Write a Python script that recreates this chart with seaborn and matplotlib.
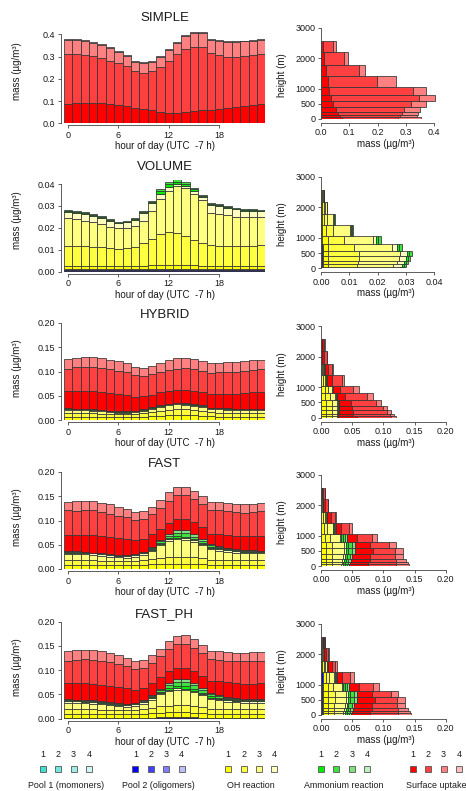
import numpy as np
import pandas as pd
import matplotlib
matplotlib.use("Agg")
import matplotlib.pyplot as plt
from matplotlib.patches import Rectangle
import seaborn as sns

sns.set_style("ticks")
plt.rcParams["font.family"] = ["Liberation Sans", "DejaVu Sans"]

# ---------------------------------------------------------------- axes data
HOURS = list(range(24))
HOUR_TICKS = [0, 6, 12, 18]
LEVEL_EDGES = [0, 56, 133, 244, 389, 578, 800, 1056, 1411, 1778, 2189, 2578]
HEIGHT_TICKS = [0, 500, 1000, 2000, 3000]

SCHEMES = ["SIMPLE", "VOLUME", "HYBRID", "FAST", "FAST_PH"]
GROUP_NAMES = ["Pool 1 (momoners)", "Pool 2 (oligomers)", "OH reaction",
               "Ammonium reaction", "Surface uptake"]
GROUP_KEYS = ["p1", "p2", "oh", "am", "su"]
BIN_LABELS = ["1", "2", "3", "4"]
GROUP_COLORS = {
    "p1": ["#40E0D0", "#70E8DC", "#A0EFE7", "#CFF7F3"],
    "p2": ["#0000FF", "#4040FF", "#8080FF", "#BFBFFF"],
    "oh": ["#FFFF00", "#FFFF40", "#FFFF80", "#FFFFBF"],
    "am": ["#00EE00", "#40E040", "#80E080", "#C0F0C0"],
    "su": ["#FF0000", "#FF4040", "#FF8080", "#FFBFBF"],
}

# ---------------------------------------------------------------- SIMPLE
SIMPLE_SU1 = [.087, .090, .090, .090, .090, .087, .082, .079, .070, .064, .058, .051,
              .045, .045, .049, .055, .058, .058, .064, .069, .073, .078, .082, .085]
SIMPLE_SU2 = [.223, .220, .217, .213, .205, .195, .188, .179, .165, .161, .177, .204,
              .235, .267, .285, .290, .284, .257, .243, .231, .227, .225, .224, .225]
SIMPLE_SU3 = [.065, .065, .064, .060, .058, .056, .051, .045, .041, .045, .041, .044,
              .049, .050, .058, .061, .064, .059, .062, .065, .065, .065, .066, .064]
SIMPLE_SU4 = [.004, .004, .004, .004, .004, .004, .004, .004, .004, .004, .004, .004,
              .004, .004, .004, .004, .004, .004, .004, .004, .004, .004, .004, .004]

SIMPLE_V_SU1 = [.073, .067, .061, .053, .044, .036, .029, .024, .016, .012, .008]
SIMPLE_V_SU2 = [.200, .212, .224, .240, .274, .311, .295, .175, .119, .070, .036]
SIMPLE_V_SU3 = [.079, .061, .059, .056, .053, .054, .047, .066, .021, .014, .009]

# ---------------------------------------------------------------- VOLUME
VOL_P1 = [.0004] * 24
VOL_P2A = [.0004] * 24
VOL_P2B = [.0004] * 24
VOL_OH1 = [.0014, .0014, .0014, .0014, .0014, .0014, .0014, .0014, .0014, .0015, .0017, .0019,
           .0020, .0020, .0019, .0017, .0015, .0014, .0014, .0014, .0014, .0014, .0014, .0014]
VOL_OH2 = [.0093, .0091, .0090, .0088, .0085, .0080, .0076, .0080, .0088, .0102, .0120, .0139,
           .0147, .0144, .0130, .0114, .0102, .0094, .0093, .0091, .0091, .0091, .0093, .0094]
VOL_OH3 = [.0124, .0122, .0117, .0111, .0105, .0099, .0096, .0095, .0096, .0104, .0128, .0161,
           .0188, .0213, .0221, .0213, .0196, .0149, .0143, .0140, .0134, .0131, .0129, .0128]
VOL_OH4 = [.0030, .0030, .0031, .0030, .0028, .0027, .0022, .0024, .0028, .0035, .0035, .0025,
           .0020, .0012, .0011, .0013, .0015, .0035, .0037, .0035, .0033, .0030, .0028, .0027]
VOL_AM1 = [.0004, .0004, .0004, .0004, .0004, .0004, .0004, .0004, .0004, .0005, .0006, .0010,
           .0011, .0010, .0009, .0007, .0005, .0004, .0004, .0004, .0004, .0004, .0004, .0004]
VOL_AM2 = [.0004, .0004, .0004, .0004, .0004, .0004, .0004, .0004, .0004, .0005, .0006, .0010,
           .0011, .0010, .0009, .0007, .0005, .0004, .0004, .0004, .0004, .0004, .0004, .0004]

VOL_V_P1 = [.0002, .0002, .0002, .0002, .0002, .0002, .0002, .0001, .0001, .0001, .0002]
VOL_V_P2 = [.0004, .0004, .0004, .0004, .0004, .0004, .0003, .0003, .0002, .0002, .0002]
VOL_V_OH1 = [.0020, .0020, .0020, .0020, .0020, .0020, .0018, .0012, .0008, .0006, .0004]
VOL_V_OH2 = [.0100, .0102, .0106, .0109, .0109, .0090, .0059, .0028, .0010, .0004, .0002]
VOL_V_OH3 = [.0124, .0127, .0135, .0141, .0144, .0134, .0103, .0058, .0023, .0007, .0000]
VOL_V_OH4 = [.0030, .0030, .0025, .0024, .0024, .0017, .0010, .0004, .0002, .0001, .0000]
VOL_V_AM1 = [.0008, .0007, .0007, .0007, .0008, .0009, .0008, .0004, .0001, .0000, .0000]
VOL_V_AM2 = [.0008, .0008, .0007, .0007, .0009, .0009, .0009, .0004, .0001, .0001, .0000]

# ---------------------------------------------------------------- HYBRID
HYB_OH1 = [.007, .007, .007, .007, .006, .006, .006, .006, .006, .007, .008, .009,
           .010, .011, .011, .010, .009, .008, .007, .007, .007, .007, .007, .007]
HYB_OH2 = [.008, .008, .008, .007, .007, .006, .006, .006, .006, .007, .008, .010,
           .011, .011, .011, .010, .009, .008, .008, .008, .008, .007, .007, .008]
HYB_OH3 = [.0058, .0048, .0048, .0048, .0048, .0038, .0028, .0028, .0038, .0048, .0068, .0088,
           .0098, .0108, .0098, .0098, .0088, .0058, .0068, .0058, .0048, .0058, .0058, .0048]
HYB_OH4 = [.002] * 24
HYB_AM1 = [.0012] * 24
HYB_SU1 = [.035, .037, .037, .037, .037, .037, .035, .033, .029, .027, .026, .026,
           .025, .025, .026, .026, .027, .028, .028, .030, .031, .033, .034, .035]
HYB_SU2 = [.047, .049, .050, .050, .050, .049, .048, .047, .044, .042, .042, .042,
           .044, .045, .046, .046, .045, .044, .046, .045, .045, .045, .046, .047]
HYB_SU3 = [.020, .019, .020, .021, .020, .019, .020, .019, .018, .017, .018, .018,
           .020, .021, .020, .020, .019, .020, .019, .020, .020, .020, .020, .019]

HYB_V_OH1 = [.008, .008, .008, .008, .008, .007, .006, .003, .002, .001, .0005]
HYB_V_OH2 = [.009, .009, .009, .009, .009, .008, .006, .003, .0015, .0005, .0003]
HYB_V_OH3 = [.008, .008, .009, .009, .009, .007, .006, .002, .001, .0003, .0002]
HYB_V_OH4 = [.002, .002, .002, .002, .002, .002, .001, .0005, .0003, .0001, .0000]
HYB_V_AM1 = [.001, .001, .001, .001, .001, .001, .001, .001, .001, .0005, .0005]
HYB_V_SU1 = [.029, .024, .022, .020, .019, .013, .010, .008, .005, .003, .003]
HYB_V_SU2 = [.056, .059, .055, .051, .040, .035, .022, .016, .007, .004, .001]
HYB_V_SU3 = [.008, .006, .006, .006, .008, .010, .009, .004, .002, .001, .001]

# ---------------------------------------------------------------- FAST
FAST_OH1 = [.009, .009, .009, .009, .008, .008, .008, .008, .008, .009, .010, .010,
            .010, .010, .010, .010, .010, .009, .009, .009, .009, .009, .009, .009]
FAST_OH2 = [.009, .009, .009, .009, .009, .008, .008, .008, .008, .009, .011, .013,
            .015, .015, .015, .014, .012, .010, .010, .009, .009, .009, .009, .009]
FAST_OH3 = [.013, .013, .012, .011, .010, .009, .008, .007, .009, .011, .016, .026,
            .033, .036, .035, .032, .027, .022, .019, .018, .016, .015, .014, .014]
FAST_OH4 = [.003] * 24
FAST_AM1 = [.0010, .0010, .0010, .0007, .0010, .0007, .0004, .0007, .0007, .0010, .0015, .0020,
            .0030, .0040, .0040, .0030, .0020, .0020, .0020, .0015, .0010, .0010, .0010, .0010]
FAST_AM2 = [.0010, .0010, .0010, .0007, .0010, .0007, .0003, .0007, .0007, .0015, .0025, .0030,
            .0040, .0070, .0070, .0050, .0040, .0030, .0030, .0020, .0015, .0010, .0015, .0010]
FAST_AM3 = [.0010, .0010, .0010, .0006, .0010, .0006, .0003, .0006, .0006, .0015, .0020, .0020,
            .0040, .0060, .0070, .0050, .0030, .0020, .0020, .0015, .0015, .0010, .0015, .0010]
FAST_SU1 = [.033, .033, .034, .036, .035, .035, .035, .033, .029, .026, .026, .024,
            .023, .022, .022, .025, .026, .021, .024, .026, .028, .029, .030, .031]
FAST_SU2 = [.051, .050, .052, .051, .049, .049, .047, .046, .043, .041, .041, .043,
            .046, .049, .049, .048, .047, .050, .049, .049, .048, .048, .048, .050]
FAST_SU3 = [.018, .020, .019, .019, .020, .019, .018, .017, .016, .016, .015, .016,
            .017, .017, .017, .016, .016, .017, .018, .018, .017, .017, .018, .018]

FAST_V_OH1 = [.008, .008, .008, .008, .008, .008, .007, .005, .003, .0015, .0008]
FAST_V_OH2 = [.009, .009, .009, .009, .010, .010, .008, .005, .003, .0012, .0006]
FAST_V_OH3 = [.015, .016, .017, .018, .019, .019, .015, .009, .0025, .0010, .0005]
FAST_V_OH4 = [.003, .003, .003, .003, .003, .003, .002, .001, .0005, .0003, .0001]
FAST_V_AM1 = [.003, .003, .003, .003, .004, .004, .003, .001, .0003, .0000, .0000]
FAST_V_AM2 = [.004, .004, .004, .005, .006, .006, .004, .002, .0004, .0000, .0000]
FAST_V_AM3 = [.003, .003, .004, .004, .004, .004, .003, .001, .0003, .0000, .0000]
FAST_V_SU1 = [.030, .030, .030, .029, .030, .025, .016, .008, .006, .003, .002]
FAST_V_SU2 = [.045, .044, .042, .040, .035, .030, .023, .013, .006, .004, .002]
FAST_V_SU3 = [.021, .019, .016, .013, .012, .011, .009, .005, .002, .001, .0005]

# ---------------------------------------------------------------- FAST_PH
FPH_P1A = [.0006] * 24
FPH_P1B = [.0006] * 24
FPH_P2 = [.0003, .0003, .0003, .0003, .0003, .0003, .0003, .0003, .0003, .0005, .0010, .0020,
          .0030, .0030, .0030, .0020, .0010, .0005, .0003, .0003, .0003, .0003, .0003, .0003]
FPH_OH1 = [.009, .009, .009, .009, .008, .008, .008, .008, .008, .009, .009, .009,
           .009, .009, .009, .009, .009, .009, .009, .009, .009, .009, .009, .009]
FPH_OH2 = [.009, .009, .009, .009, .009, .008, .008, .008, .008, .009, .011, .013,
           .014, .015, .015, .014, .012, .010, .010, .009, .009, .009, .009, .009]
FPH_OH3 = [.0135, .0135, .0125, .0115, .0115, .0105, .0085, .0075, .0095, .0113, .0168, .0258,
           .0298, .0318, .0308, .0288, .0248, .0193, .0175, .0155, .0145, .0135, .0135, .0135]
FPH_OH4 = [.003] * 24
FPH_AM1 = [.0012, .0010, .0010, .0012, .0010, .0010, .0010, .0010, .0010, .0012, .0020, .0020,
           .0040, .0050, .0050, .0040, .0030, .0030, .0020, .0020, .0020, .0015, .0015, .0012]
FPH_AM2 = [.0016, .0010, .0010, .0016, .0010, .0010, .0010, .0010, .0010, .0016, .0030, .0030,
           .0060, .0080, .0080, .0070, .0050, .0040, .0030, .0030, .0025, .0020, .0020, .0016]
FPH_AM3 = [.0012, .0010, .0010, .0012, .0010, .0010, .0010, .0010, .0010, .0012, .0020, .0020,
           .0040, .0060, .0070, .0050, .0040, .0020, .0020, .0020, .0015, .0015, .0015, .0012]
FPH_SU1 = [.034, .035, .036, .034, .034, .033, .033, .032, .027, .025, .025, .024,
           .024, .023, .023, .024, .025, .026, .030, .031, .031, .031, .031, .033]
FPH_SU2 = [.046, .048, .049, .050, .050, .049, .048, .046, .043, .042, .041, .044,
           .046, .049, .049, .048, .047, .045, .044, .044, .044, .046, .047, .047]
FPH_SU3 = [.020, .019, .019, .020, .019, .019, .018, .017, .017, .017, .016, .015,
           .016, .016, .018, .018, .017, .017, .018, .017, .017, .017, .018, .018]

FPH_V_P1 = [.0010, .0010, .0010, .0010, .0010, .0010, .0010, .0008, .0006, .0005, .0008]
FPH_V_P2 = [.0030, .0030, .0030, .0030, .0030, .0030, .0030, .0025, .0005, .0003, .0002]
FPH_V_OH1 = [.008, .008, .008, .008, .008, .008, .007, .005, .003, .0015, .0006]
FPH_V_OH2 = [.009, .009, .009, .009, .010, .010, .008, .005, .003, .0012, .0005]
FPH_V_OH3 = [.014, .015, .016, .017, .018, .018, .014, .008, .0025, .0010, .0003]
FPH_V_OH4 = [.003, .003, .003, .003, .003, .003, .002, .001, .0005, .0003, .0001]
FPH_V_AM1 = [.003, .003, .003, .003, .004, .004, .003, .001, .0003, .0000, .0000]
FPH_V_AM2 = [.004, .004, .004, .005, .006, .006, .004, .002, .0004, .0000, .0000]
FPH_V_AM3 = [.003, .003, .004, .004, .004, .004, .003, .001, .0003, .0000, .0000]
FPH_V_SU1 = [.030, .030, .030, .029, .030, .025, .016, .008, .006, .003, .002]
FPH_V_SU2 = [.045, .044, .042, .040, .035, .030, .023, .013, .006, .004, .002]
FPH_V_SU3 = [.021, .019, .016, .013, .012, .011, .009, .005, .002, .001, .0005]

# stacked layers (bottom to top) for each scheme
DIURNAL = {
    "SIMPLE": {"su1": SIMPLE_SU1, "su2": SIMPLE_SU2, "su3": SIMPLE_SU3, "su4": SIMPLE_SU4},
    "VOLUME": {"p1_1": VOL_P1, "p2_1": VOL_P2A, "p2_2": VOL_P2B, "oh1": VOL_OH1,
               "oh2": VOL_OH2, "oh3": VOL_OH3, "oh4": VOL_OH4, "am1": VOL_AM1, "am2": VOL_AM2},
    "HYBRID": {"oh1": HYB_OH1, "oh2": HYB_OH2, "oh3": HYB_OH3, "oh4": HYB_OH4, "am1": HYB_AM1,
               "su1": HYB_SU1, "su2": HYB_SU2, "su3": HYB_SU3},
    "FAST": {"oh1": FAST_OH1, "oh2": FAST_OH2, "oh3": FAST_OH3, "oh4": FAST_OH4,
             "am1": FAST_AM1, "am2": FAST_AM2, "am3": FAST_AM3,
             "su1": FAST_SU1, "su2": FAST_SU2, "su3": FAST_SU3},
    "FAST_PH": {"p1_1": FPH_P1A, "p1_2": FPH_P1B, "p2_1": FPH_P2, "oh1": FPH_OH1,
                "oh2": FPH_OH2, "oh3": FPH_OH3, "oh4": FPH_OH4, "am1": FPH_AM1,
                "am2": FPH_AM2, "am3": FPH_AM3, "su1": FPH_SU1, "su2": FPH_SU2, "su3": FPH_SU3},
}
PROFILE = {
    "SIMPLE": {"su1": SIMPLE_V_SU1, "su2": SIMPLE_V_SU2, "su3": SIMPLE_V_SU3},
    "VOLUME": {"p1_1": VOL_V_P1, "p2_1": VOL_V_P2, "oh1": VOL_V_OH1, "oh2": VOL_V_OH2,
               "oh3": VOL_V_OH3, "oh4": VOL_V_OH4, "am1": VOL_V_AM1, "am2": VOL_V_AM2},
    "HYBRID": {"oh1": HYB_V_OH1, "oh2": HYB_V_OH2, "oh3": HYB_V_OH3, "oh4": HYB_V_OH4,
               "am1": HYB_V_AM1, "su1": HYB_V_SU1, "su2": HYB_V_SU2, "su3": HYB_V_SU3},
    "FAST": {"oh1": FAST_V_OH1, "oh2": FAST_V_OH2, "oh3": FAST_V_OH3, "oh4": FAST_V_OH4,
             "am1": FAST_V_AM1, "am2": FAST_V_AM2, "am3": FAST_V_AM3,
             "su1": FAST_V_SU1, "su2": FAST_V_SU2, "su3": FAST_V_SU3},
    "FAST_PH": {"p1_1": FPH_V_P1, "p2_1": FPH_V_P2, "oh1": FPH_V_OH1, "oh2": FPH_V_OH2,
                "oh3": FPH_V_OH3, "oh4": FPH_V_OH4, "am1": FPH_V_AM1, "am2": FPH_V_AM2,
                "am3": FPH_V_AM3, "su1": FPH_V_SU1, "su2": FPH_V_SU2, "su3": FPH_V_SU3},
}

# mass axis ticks per scheme
DIURNAL_TICKS = {
    "SIMPLE": ([0, .1, .2, .3, .4], ["0.0", "0.1", "0.2", "0.3", "0.4"]),
    "VOLUME": ([0, .01, .02, .03, .04], ["0.00", "0.01", "0.02", "0.03", "0.04"]),
    "HYBRID": ([0, .05, .10, .15, .20], ["0.00", "0.05", "0.10", "0.15", "0.20"]),
    "FAST": ([0, .05, .10, .15, .20], ["0.00", "0.05", "0.10", "0.15", "0.20"]),
    "FAST_PH": ([0, .05, .10, .15, .20], ["0.00", "0.05", "0.10", "0.15", "0.20"]),
}
PROFILE_TICKS = DIURNAL_TICKS

# ---------------------------------------------------------------- layout
W, H = 466, 791
EDGE = "#333333"
AX_COLOR = "#444444"
TEXT_COLOR = "#1a1a1a"
COMPONENT_COLORS = {f"{g}{'_' if g in ('p1', 'p2') else ''}{i + 1}": c
                    for g, cols in GROUP_COLORS.items() for i, c in enumerate(cols)}

LEFT_X0, LEFT_W = 63.8, 201.6
ROW_ZERO_L = [123.3, 271.7, 420.0, 569.0, 718.7]
LEFT_SCALE = {"SIMPLE": 222.5, "VOLUME": 2192.0, "HYBRID": 485.0, "FAST": 485.0, "FAST_PH": 485.0}
LEFT_TOP = {"SIMPLE": 0.42, "VOLUME": 0.042, "HYBRID": 0.2, "FAST": 0.2, "FAST_PH": 0.2}
RIGHT_X0, RIGHT_W = 321.0, 130.0
ROW_ZERO_R = [119.0, 268.3, 417.7, 566.0, 715.0]
RIGHT_H = 91.3
RIGHT_XMAX = {"SIMPLE": 0.459, "VOLUME": 0.0459, "HYBRID": 0.2085, "FAST": 0.2085, "FAST_PH": 0.2085}

TICK_FS = 6.5
LABEL_FS = 7.0
TITLE_FS = 9.5
LEGEND_FS = 6.4


def add_axes_px(x0, y_bottom, w, h):
    return fig.add_axes([x0 / W, 1 - y_bottom / H, w / W, h / H])


def stacked_frame(layers, positions, pos_name):
    rows = []
    for comp, vals in layers.items():
        for p, v in zip(positions, vals):
            rows.append({pos_name: p, "component": comp, "mass": v})
    return pd.DataFrame(rows)


def style_axes(ax):
    for side in ("top", "right"):
        ax.spines[side].set_visible(False)
    for side in ("left", "bottom"):
        ax.spines[side].set_color(AX_COLOR)
        ax.spines[side].set_linewidth(0.6)
    ax.tick_params(direction="out", length=2.4, width=0.6, color=AX_COLOR,
                   labelsize=TICK_FS, labelcolor=TEXT_COLOR, pad=1.5)
    ax.set_xlabel("")
    ax.set_ylabel("")


fig = plt.figure(figsize=(W / 100, H / 100), dpi=100)

level_mids = [(a + b) / 2 for a, b in zip(LEVEL_EDGES[:-1], LEVEL_EDGES[1:])]
hour_edges = [h - 0.5 for h in HOURS] + [HOURS[-1] + 0.5]

for row, name in enumerate(SCHEMES):
    # diurnal cycle of the stacked column mass
    layers = DIURNAL[name]
    order = list(layers)
    y0 = ROW_ZERO_L[row]
    h_px = LEFT_TOP[name] * LEFT_SCALE[name]
    ax = add_axes_px(LEFT_X0, y0, LEFT_W, h_px)
    sns.histplot(data=stacked_frame(layers, HOURS, "hour"), x="hour", weights="mass",
                 hue="component", hue_order=order[::-1], palette=COMPONENT_COLORS,
                 multiple="stack", bins=hour_edges, alpha=1, edgecolor=EDGE,
                 linewidth=0.55, legend=False, ax=ax)
    style_axes(ax)
    ax.set_xlim(-0.5, 23.5)
    ax.set_ylim(0, LEFT_TOP[name])
    ticks, labels = DIURNAL_TICKS[name]
    ax.set_yticks(ticks, labels)
    ax.set_xticks(HOUR_TICKS, [str(t) for t in HOUR_TICKS])
    ax.spines["left"].set_position(("outward", 2.0))
    ax.spines["left"].set_bounds(0, ticks[-1])
    ax.spines["bottom"].set_position(("outward", 1.5))
    ax.spines["bottom"].set_bounds(HOUR_TICKS[0], HOUR_TICKS[-1])

    fig.text((LEFT_X0 + LEFT_W / 2) / W, 1 - (y0 - 105) / H, name, color=TEXT_COLOR,
             ha="center", va="center", fontsize=TITLE_FS)
    fig.text((LEFT_X0 + LEFT_W / 2) / W, 1 - (y0 + 23) / H, "hour of day (UTC  -7 h)",
             ha="center", va="center", fontsize=LABEL_FS, color=TEXT_COLOR)
    fig.text(16.5 / W, 1 - (y0 - 52) / H, "mass (µg/m³)", rotation=90, color=TEXT_COLOR,
             ha="center", va="center", fontsize=LABEL_FS)

    # vertical profile of the stacked mass
    layers = PROFILE[name]
    order = list(layers)
    yr = ROW_ZERO_R[row]
    axr = add_axes_px(RIGHT_X0, yr, RIGHT_W, RIGHT_H)
    sns.histplot(data=stacked_frame(layers, level_mids, "height"), y="height", weights="mass",
                 hue="component", hue_order=order[::-1], palette=COMPONENT_COLORS,
                 multiple="stack", bins=LEVEL_EDGES, alpha=1, edgecolor=EDGE,
                 linewidth=0.55, legend=False, ax=axr)
    style_axes(axr)
    axr.set_ylim(0, 3000)
    axr.set_xlim(0, RIGHT_XMAX[name])
    ticks, labels = PROFILE_TICKS[name]
    axr.set_xticks(ticks, labels)
    axr.set_yticks(HEIGHT_TICKS, [str(t) for t in HEIGHT_TICKS])
    axr.spines["left"].set_bounds(0, 3000)
    axr.spines["bottom"].set_position(("outward", 2.9))
    axr.spines["bottom"].set_bounds(0, ticks[-1])

    fig.text((RIGHT_X0 + 65) / W, 1 - (yr + 25) / H, "mass (µg/m³)", color=TEXT_COLOR,
             ha="center", va="center", fontsize=LABEL_FS)
    fig.text(282 / W, 1 - (yr - 44) / H, "height (m)", rotation=90, color=TEXT_COLOR,
             ha="center", va="center", fontsize=LABEL_FS)

# ---------------------------------------------------------------- legend
GROUP_X0 = [42.8, 135.4, 228.2, 321.0, 412.8]
SQUARE_STEP = 15.4
SQ = 6.0
NUM_Y, SQ_Y, NAME_Y = 754.5, 768.5, 786.0
for gx, key, gname in zip(GROUP_X0, GROUP_KEYS, GROUP_NAMES):
    for i, (lab, col) in enumerate(zip(BIN_LABELS, GROUP_COLORS[key])):
        cx = gx + i * SQUARE_STEP
        fig.add_artist(Rectangle(((cx - SQ / 2) / W, 1 - (SQ_Y + SQ / 2) / H), SQ / W, SQ / H,
                                 transform=fig.transFigure, facecolor=col,
                                 edgecolor="#555555", linewidth=0.6))
        fig.text(cx / W, 1 - NUM_Y / H, lab, ha="center", va="center",
                 fontsize=LEGEND_FS, color=TEXT_COLOR)
    fig.text((gx + 1.5 * SQUARE_STEP) / W, 1 - NAME_Y / H, gname, color=TEXT_COLOR,
             ha="center", va="center", fontsize=LEGEND_FS)

fig.savefig("out.png", dpi=100)
